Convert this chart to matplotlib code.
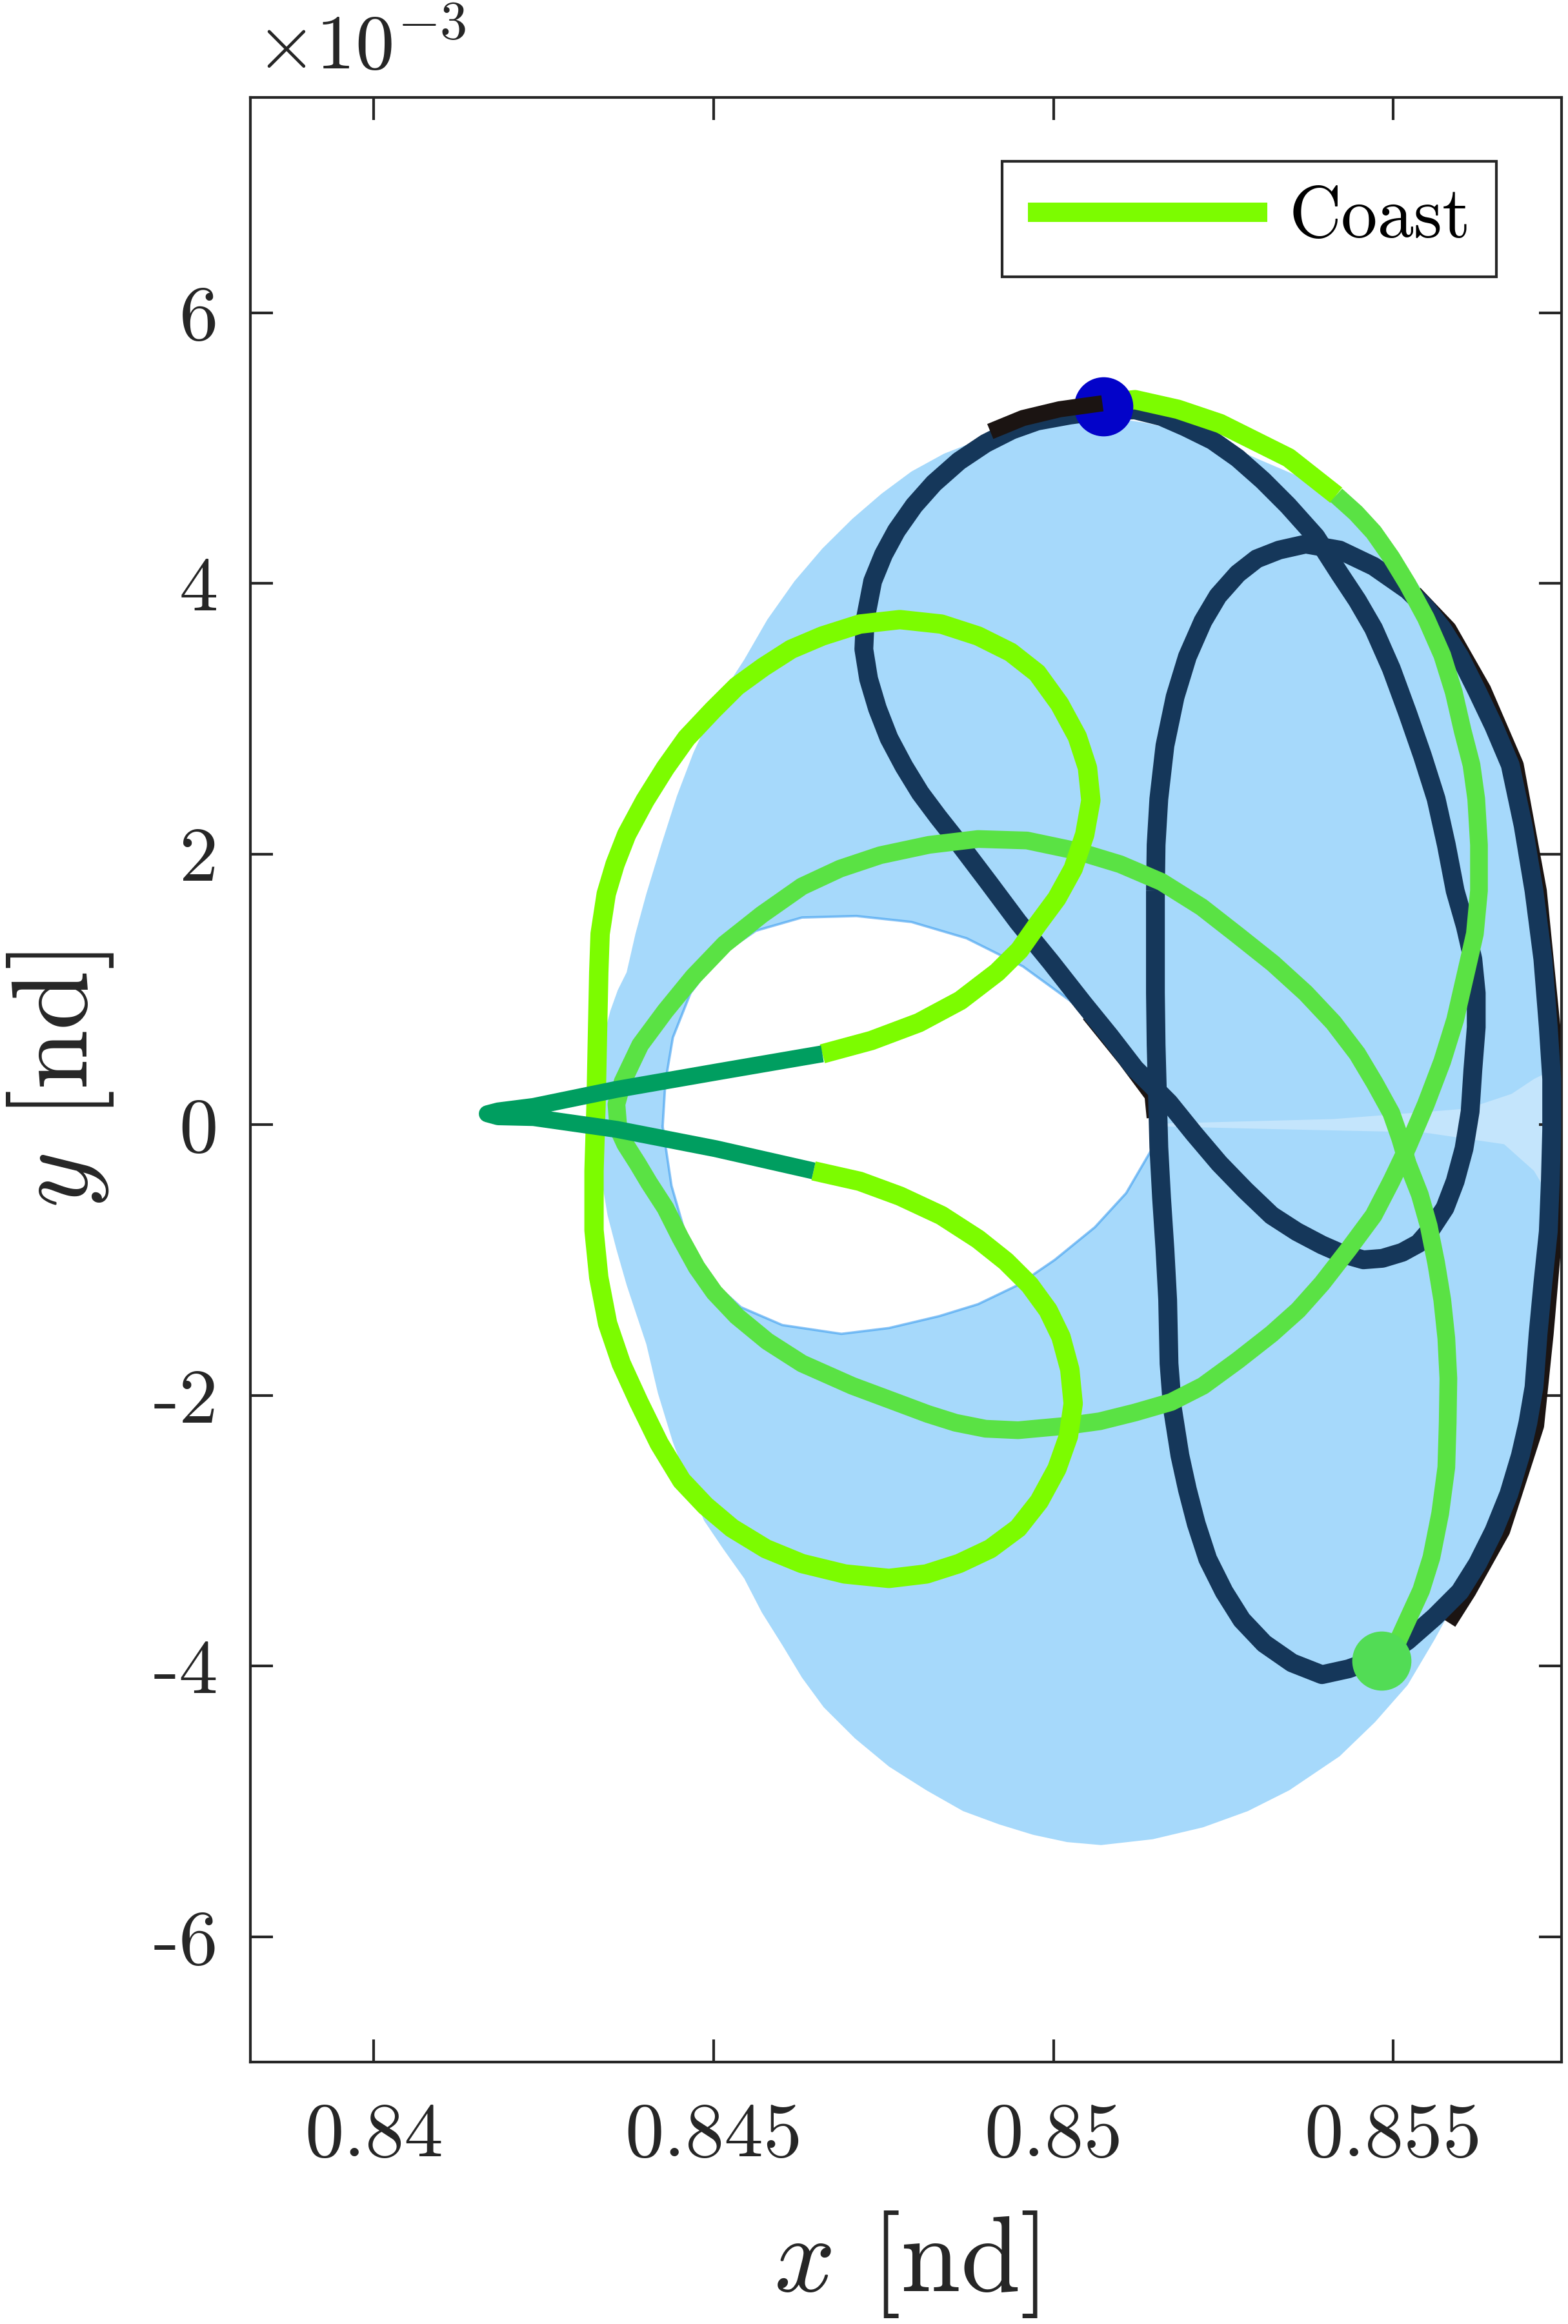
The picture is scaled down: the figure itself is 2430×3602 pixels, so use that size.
import matplotlib
matplotlib.use("Agg")
import matplotlib.pyplot as plt

plt.rcParams["font.family"] = "cmr10"
plt.rcParams["mathtext.fontset"] = "cm"
plt.rcParams["axes.unicode_minus"] = False

# ---------------- data : (x [nd], y [x1e-3 nd]) ----------------
# shaded torus band: outer edge, inner hole, light streak along y=0
torus_out = [(0.85072, 5.232), (0.85133, 5.188), (0.85194, 5.122), (0.85249, 5.034), (0.85303, 4.914),
             (0.85364, 4.783), (0.85423, 4.629), (0.85456, 4.498), (0.85484, 4.345), (0.85513, 4.170),
             (0.85539, 3.973), (0.85576, 3.699), (0.85609, 3.381), (0.85637, 3.075), (0.85663, 2.724),
             (0.85687, 2.341), (0.85707, 1.958), (0.85724, 1.520), (0.85735, 1.082), (0.85742, 0.535),
             (0.85746, -0.013), (0.85742, -0.505), (0.85735, -0.998), (0.85724, -1.436), (0.85711, -1.874),
             (0.85689, -2.312), (0.85663, -2.750), (0.85630, -3.133), (0.85598, -3.461), (0.85561, -3.801),
             (0.85521, -4.140), (0.85473, -4.414), (0.85421, -4.666), (0.85347, -4.917), (0.85286, -5.071),
             (0.85220, -5.191), (0.85146, -5.279), (0.85070, -5.322), (0.85020, -5.300), (0.84970, -5.246),
             (0.84920, -5.169), (0.84867, -5.071), (0.84813, -4.917), (0.84758, -4.742), (0.84708, -4.534),
             (0.84662, -4.304), (0.84630, -4.085), (0.84601, -3.844), (0.84571, -3.604), (0.84545, -3.352),
             (0.84514, -3.133), (0.84486, -2.925), (0.84462, -2.640), (0.84440, -2.345), (0.84418, -1.983),
             (0.84401, -1.622), (0.84385, -1.381), (0.84372, -1.184), (0.84357, -0.921), (0.84344, -0.670),
             (0.84333, -0.341), (0.84327, -0.013), (0.84329, 0.316), (0.84335, 0.590), (0.84348, 0.841),
             (0.84359, 0.995), (0.84372, 1.126), (0.84385, 1.411), (0.84401, 1.706), (0.84423, 2.068),
             (0.84446, 2.429), (0.84470, 2.746), (0.84499, 3.064), (0.84521, 3.250), (0.84545, 3.436),
             (0.84579, 3.732), (0.84619, 4.016), (0.84660, 4.257), (0.84704, 4.476), (0.84747, 4.662),
             (0.84791, 4.826), (0.84839, 4.958), (0.84889, 5.056), (0.84933, 5.133), (0.84976, 5.177),
             (0.85024, 5.210)]
torus_in = [(0.84425, -0.013), (0.84429, 0.316), (0.84440, 0.644), (0.84466, 0.973), (0.84508, 1.246),
            (0.84562, 1.433), (0.84630, 1.531), (0.84710, 1.542), (0.84791, 1.498), (0.84872, 1.378),
            (0.84955, 1.170), (0.85024, 0.918), (0.85085, 0.644), (0.85125, 0.414), (0.85149, 0.206),
            (0.85149, -0.144), (0.85107, -0.505), (0.85061, -0.757), (0.85002, -0.998), (0.84948, -1.184),
            (0.84889, -1.326), (0.84832, -1.414), (0.84758, -1.502), (0.84688, -1.545), (0.84601, -1.480),
            (0.84540, -1.348), (0.84492, -1.129), (0.84460, -0.834), (0.84438, -0.451)]
streak = [(0.85162, 0.009), (0.85412, 0.042), (0.85609, 0.119), (0.85674, 0.228), (0.85707, 0.338),
          (0.85733, 0.403), (0.85733, -0.560), (0.85707, -0.341), (0.85663, -0.144), (0.85543, -0.056),
          (0.85347, -0.035), (0.85162, -0.013)]

# thrust arc (dark green V)
dkgreen = [(0.84660, 0.524), (0.84508, 0.393), (0.84357, 0.261), (0.84235, 0.135), (0.84183, 0.102),
           (0.84167, 0.081), (0.84183, 0.059), (0.84235, 0.053), (0.84357, -0.034), (0.84503, -0.177),
           (0.84647, -0.341)]

# coast arcs (light green)
coast = [(0.84660, 0.524), (0.84732, 0.622), (0.84802, 0.754), (0.84863, 0.918), (0.84917, 1.126),
         (0.84950, 1.290), (0.84976, 1.476), (0.85005, 1.673), (0.85029, 1.892), (0.85046, 2.144),
         (0.85055, 2.396), (0.85050, 2.637), (0.85035, 2.867), (0.85009, 3.108), (0.84976, 3.337),
         (0.84937, 3.491), (0.84889, 3.611), (0.84835, 3.699), (0.84774, 3.732), (0.84715, 3.699),
         (0.84660, 3.611), (0.84614, 3.513), (0.84573, 3.381), (0.84534, 3.239), (0.84499, 3.064),
         (0.84460, 2.856), (0.84429, 2.637), (0.84399, 2.396), (0.84372, 2.144), (0.84355, 1.925),
         (0.84342, 1.706), (0.84333, 1.411), (0.84331, 1.126), (0.84329, 0.644), (0.84327, 0.152),
         (0.84324, -0.341), (0.84324, -0.779), (0.84331, -1.129), (0.84344, -1.469), (0.84364, -1.764),
         (0.84390, -2.049), (0.84420, -2.356), (0.84453, -2.629), (0.84488, -2.815), (0.84527, -2.980),
         (0.84577, -3.133), (0.84630, -3.242), (0.84693, -3.319), (0.84758, -3.352), (0.84813, -3.319),
         (0.84861, -3.242), (0.84907, -3.133), (0.84948, -2.980), (0.84979, -2.782), (0.85005, -2.542),
         (0.85022, -2.301), (0.85029, -2.060), (0.85024, -1.808), (0.85011, -1.567), (0.84992, -1.370),
         (0.84965, -1.184), (0.84930, -1.009), (0.84889, -0.845), (0.84835, -0.670), (0.84774, -0.527),
         (0.84715, -0.418), (0.84647, -0.341)]
coast2 = [(0.85072, 5.330), (0.85120, 5.357), (0.85183, 5.286), (0.85245, 5.181), (0.85346, 4.928),
          (0.85416, 4.651)]

# medium green arc
midgreen = [(0.85416, 4.651), (0.85445, 4.520), (0.85471, 4.378), (0.85497, 4.192), (0.85521, 3.994),
            (0.85548, 3.743), (0.85572, 3.469), (0.85589, 3.195), (0.85602, 2.911), (0.85615, 2.659),
            (0.85622, 2.407), (0.85626, 2.068), (0.85626, 1.728), (0.85620, 1.411), (0.85606, 1.104),
            (0.85591, 0.776), (0.85572, 0.469), (0.85548, 0.152), (0.85521, -0.166), (0.85497, -0.418),
            (0.85471, -0.670), (0.85434, -0.921), (0.85395, -1.173), (0.85360, -1.370), (0.85321, -1.545),
            (0.85271, -1.742), (0.85220, -1.929), (0.85173, -2.049), (0.85120, -2.126), (0.85068, -2.191),
            (0.85020, -2.224), (0.84948, -2.257), (0.84900, -2.246), (0.84856, -2.202), (0.84815, -2.137),
            (0.84774, -2.060), (0.84704, -1.929), (0.84630, -1.764), (0.84579, -1.600), (0.84534, -1.414),
            (0.84501, -1.239), (0.84475, -1.053), (0.84451, -0.834), (0.84429, -0.615), (0.84405, -0.429),
            (0.84388, -0.286), (0.84370, -0.144), (0.84360, -0.035), (0.84357, 0.152), (0.84366, 0.316),
            (0.84392, 0.590), (0.84429, 0.841), (0.84470, 1.093), (0.84516, 1.334), (0.84571, 1.553),
            (0.84630, 1.761), (0.84686, 1.892), (0.84745, 1.991), (0.84817, 2.068), (0.84889, 2.111),
            (0.84961, 2.100), (0.85033, 2.024), (0.85098, 1.925), (0.85159, 1.794), (0.85218, 1.608),
            (0.85271, 1.400), (0.85323, 1.192), (0.85371, 0.973), (0.85412, 0.754), (0.85447, 0.524),
            (0.85473, 0.305), (0.85497, 0.086), (0.85510, -0.100), (0.85521, -0.286), (0.85539, -0.516),
            (0.85552, -0.746), (0.85563, -1.020), (0.85572, -1.294), (0.85578, -1.578), (0.85581, -1.874),
            (0.85580, -2.202), (0.85578, -2.531), (0.85569, -2.870), (0.85556, -3.198), (0.85541, -3.439),
            (0.85521, -3.658), (0.85506, -3.823), (0.85491, -3.954)]

# periodic orbits (navy)
navy1 = [(0.85072, 5.275), (0.85120, 5.281), (0.85159, 5.232), (0.85194, 5.155), (0.85234, 5.056),
         (0.85271, 4.925), (0.85308, 4.761), (0.85345, 4.575), (0.85386, 4.345), (0.85421, 4.071),
         (0.85447, 3.874), (0.85471, 3.666), (0.85497, 3.370), (0.85521, 3.042), (0.85543, 2.724),
         (0.85563, 2.407), (0.85578, 2.068), (0.85591, 1.728), (0.85606, 1.465), (0.85617, 1.224),
         (0.85622, 0.973), (0.85622, 0.721), (0.85617, 0.403), (0.85613, 0.097), (0.85604, -0.177),
         (0.85591, -0.418), (0.85576, -0.615), (0.85556, -0.768), (0.85537, -0.877), (0.85513, -0.943),
         (0.85484, -0.987), (0.85456, -0.998), (0.85425, -0.954), (0.85395, -0.888), (0.85358, -0.790),
         (0.85321, -0.670), (0.85282, -0.483), (0.85244, -0.286), (0.85207, -0.067), (0.85170, 0.163),
         (0.85144, 0.294), (0.85120, 0.414), (0.85083, 0.655), (0.85044, 0.896), (0.84996, 1.203),
         (0.84948, 1.498), (0.84904, 1.794), (0.84861, 2.079), (0.84830, 2.276), (0.84804, 2.451),
         (0.84780, 2.648), (0.84758, 2.856), (0.84741, 3.075), (0.84728, 3.294), (0.84721, 3.513),
         (0.84723, 3.732), (0.84734, 4.016), (0.84750, 4.213), (0.84769, 4.389), (0.84795, 4.575),
         (0.84824, 4.739), (0.84861, 4.903), (0.84900, 5.034), (0.84939, 5.133), (0.84976, 5.199),
         (0.85024, 5.243), (0.85072, 5.275)]
navy2 = [(0.85150, 1.728), (0.85151, 2.068), (0.85155, 2.407), (0.85164, 2.801), (0.85179, 3.162),
         (0.85197, 3.458), (0.85220, 3.721), (0.85242, 3.907), (0.85271, 4.071), (0.85299, 4.181),
         (0.85332, 4.246), (0.85371, 4.290), (0.85421, 4.246), (0.85471, 4.126), (0.85521, 3.951),
         (0.85548, 3.819), (0.85572, 3.666), (0.85598, 3.458), (0.85622, 3.217), (0.85648, 2.943),
         (0.85672, 2.659), (0.85691, 2.210), (0.85707, 1.728), (0.85720, 1.224), (0.85728, 0.721),
         (0.85733, 0.338), (0.85733, -0.035), (0.85731, -0.418), (0.85728, -0.790), (0.85720, -1.173),
         (0.85713, -1.545), (0.85707, -1.939), (0.85698, -2.202), (0.85687, -2.443), (0.85670, -2.728),
         (0.85648, -3.001), (0.85624, -3.242), (0.85598, -3.450), (0.85561, -3.636), (0.85521, -3.812),
         (0.85495, -3.899), (0.85471, -3.954), (0.85434, -4.020), (0.85395, -4.063), (0.85351, -3.976),
         (0.85310, -3.833), (0.85277, -3.658), (0.85251, -3.450), (0.85227, -3.209), (0.85210, -2.947),
         (0.85197, -2.695), (0.85186, -2.443), (0.85175, -2.093), (0.85170, -1.764), (0.85168, -1.294),
         (0.85164, -0.921), (0.85159, -0.538), (0.85155, -0.166), (0.85153, 0.217), (0.85151, 0.590),
         (0.85150, 0.973), (0.85150, 1.356), (0.85150, 1.728)]

# black reference trajectory (visible bits)
black_tail = [(0.84907, 5.122), (0.84955, 5.221), (0.85009, 5.286), (0.85072, 5.330)]
black_out = [(0.85532, 3.929), (0.85582, 3.666), (0.85633, 3.217), (0.85681, 2.659), (0.85715, 1.728),
             (0.85735, 0.721), (0.85742, -0.035), (0.85738, -0.790), (0.85725, -1.545), (0.85711, -2.224),
             (0.85661, -3.001), (0.85611, -3.450), (0.85582, -3.680)]
black_in = [(0.85048, 0.798), (0.85101, 0.469), (0.85140, 0.206), (0.85143, 0.050)]

start_pt = (0.85073, 5.308)
end_pt = (0.85483, -3.959)

xticks = [0.84, 0.845, 0.85, 0.855]
xtick_labels = ["0.84", "0.845", "0.85", "0.855"]
yticks = [-6, -4, -2, 0, 2, 4, 6]
ytick_labels = ["-6", "-4", "-2", "0", "2", "4", "6"]


def xy(pts):
    return [p[0] for p in pts], [p[1] for p in pts]


# ---------------- figure ----------------
fig = plt.figure(figsize=(8.1, 3602 / 300), dpi=300)
ax = fig.add_axes([0.15967, 0.11272, 0.83621, 0.84536])

ax.fill(*xy(torus_out), color="#A6D9FB", lw=0, zorder=1)
ax.fill(*xy(torus_in), color="white", lw=0, zorder=1.1)
ax.fill(*xy(streak), color="#C4E5FC", lw=0, zorder=1.15)
ax.plot(*xy(torus_in + torus_in[:1]), color="#3A9CEF", lw=0.9, alpha=0.6, zorder=1.2)

kw = dict(solid_joinstyle="round", solid_capstyle="butt")
ax.plot(*xy(black_out), color="#1B1412", lw=5.5, zorder=2, **kw)
ax.plot(*xy(black_in), color="#1B1412", lw=3.0, zorder=2, **kw)
ax.plot(*xy(navy1), color="#15375A", lw=7.0, zorder=3, **kw)
ax.plot(*xy(navy2), color="#15375A", lw=7.0, zorder=3, **kw)
ax.plot(*xy(midgreen), color="#5AE244", lw=6.6, zorder=4, **kw)
coast_line, = ax.plot(*xy(coast), color="#7CFC00", lw=7.2, zorder=4.5, **kw)
ax.plot(*xy(coast2), color="#7CFC00", lw=7.2, zorder=3.9, **kw)
ax.plot(*xy(dkgreen), color="#009E60", lw=6.3, zorder=4.6, **kw)

ax.plot(*start_pt, "o", ms=22, color="#0303C9", mec="none", zorder=5)
ax.plot(*end_pt, "o", ms=22, color="#52DC55", mec="none", zorder=5)
ax.plot(*xy(black_tail), color="#1B1412", lw=6.0, zorder=6, **kw)

ax.set_xlim(0.838184, 0.857475)
ax.set_ylim(-6.925, 7.59)
ax.set_xticks(xticks)
ax.set_xticklabels(xtick_labels)
ax.set_yticks(yticks)
ax.set_yticklabels(ytick_labels)
ax.tick_params(direction="in", length=8.4, width=1.0, top=True, right=True,
               labelsize=29, color="#262626", labelcolor="#262626")
ax.tick_params(axis="x", pad=15)
ax.tick_params(axis="y", pad=12)
for s in ax.spines.values():
    s.set_linewidth(1.0)
    s.set_color("#262626")

ax.set_xlabel(r"$x$ [nd]", fontsize=40, color="#262626")
ax.set_ylabel(r"$y$ [nd]", fontsize=40, color="#262626")
ax.xaxis.set_label_coords(0.5, -0.075)
ax.yaxis.set_label_coords(-0.103, 0.5)

fig.text(0.163, 0.9703, r"$\times10^{-3}$", fontsize=29, color="#262626",
         ha="left", va="baseline")

leg = ax.legend([coast_line], ["Coast"], loc="upper right", bbox_to_anchor=(0.9503, 0.9675),
                borderaxespad=0, fancybox=False, framealpha=1, edgecolor="#262626",
                fontsize=27, handlelength=3.3, handletextpad=0.3, borderpad=0.35)
leg.get_frame().set_linewidth(1.0)

fig.savefig("out.png", dpi=300)
